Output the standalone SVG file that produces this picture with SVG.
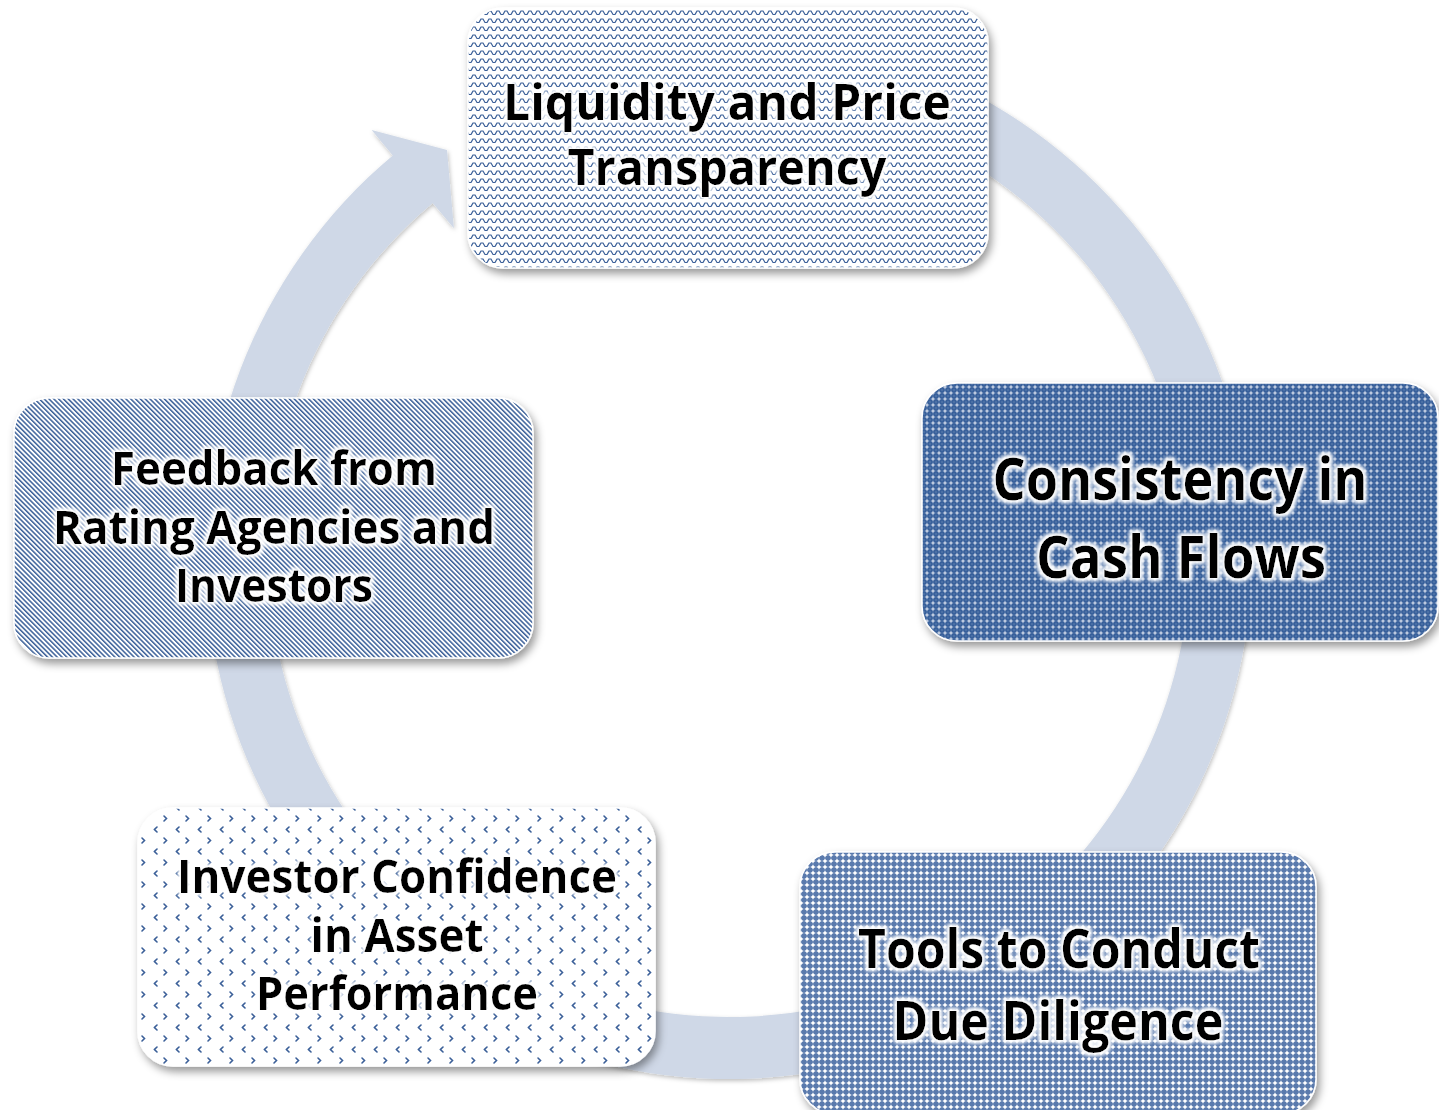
<svg xmlns="http://www.w3.org/2000/svg" width="1439" height="1110" viewBox="0 0 1439 1110">
<defs>
<style>
.t{font-family:"Open Sans","Liberation Sans",sans-serif;font-weight:700;fill:#000;text-anchor:middle;}
.box{stroke:#fff;stroke-width:1.5;}
.cv{fill:none;stroke:#3a5f98;stroke-width:1.6;stroke-linecap:round;}
</style>
<filter id="sh" x="-10%" y="-10%" width="125%" height="130%">
<feDropShadow dx="3" dy="5" stdDeviation="4" flood-color="#000" flood-opacity="0.4"/>
</filter>
<filter id="rsh" x="-10%" y="-10%" width="120%" height="120%">
<feDropShadow dx="1" dy="2" stdDeviation="2" flood-color="#000" flood-opacity="0.25"/>
</filter>
<filter id="glow" x="-10%" y="-30%" width="120%" height="160%">
<feMorphology in="SourceAlpha" operator="dilate" radius="2" result="d"/>
<feGaussianBlur in="d" stdDeviation="2" result="b"/>
<feFlood flood-color="#fff"/>
<feComposite in2="b" operator="in" result="g"/>
<feMerge><feMergeNode in="g"/><feMergeNode in="g"/><feMergeNode in="SourceGraphic"/></feMerge>
</filter>
<pattern id="pWave" width="8" height="8" patternUnits="userSpaceOnUse">
<rect width="8" height="8" fill="#fff"/>
<path d="M-1,6.5 L1,3 L3,3 L5,6.5 L7,6.5 L9,3" fill="none" stroke="#3a5f98" stroke-width="1.2"/>
</pattern>
<pattern id="pCross" width="6" height="6" patternUnits="userSpaceOnUse">
<rect width="6" height="6" fill="#38609b"/>
<path d="M3,0.8 L3,5.2 M0.8,3 L5.2,3" stroke="#b4c3dc" stroke-width="1.1"/>
<rect x="2.4" y="2.4" width="1.2" height="1.2" fill="#fff"/>
<rect x="-0.5" y="-0.5" width="1" height="1" fill="#8aa0c4"/>
<rect x="5.5" y="5.5" width="1" height="1" fill="#8aa0c4"/>
<rect x="5.5" y="-0.5" width="1" height="1" fill="#8aa0c4"/>
<rect x="-0.5" y="5.5" width="1" height="1" fill="#8aa0c4"/>
</pattern>
<pattern id="pStar" width="6" height="6" patternUnits="userSpaceOnUse">
<rect width="6" height="6" fill="#5a7aad"/>
<path d="M3,0.2 L3.9,2.1 L5.8,3 L3.9,3.9 L3,5.8 L2.1,3.9 L0.2,3 L2.1,2.1 Z" fill="#fff"/>
</pattern>
<pattern id="pDiv" width="22" height="22" patternUnits="userSpaceOnUse">
<rect width="22" height="22" fill="#fff"/>
<path class="cv" d="M10,2 L12.5,4.5 L10,7"/>
<path class="cv" d="M3,13 L0.5,15.5 L3,18 M25,13 L22.5,15.5 L25,18"/>
</pattern>
<pattern id="pDiag" width="3.4" height="10" patternUnits="userSpaceOnUse" patternTransform="rotate(-45)">
<rect width="3.4" height="10" fill="#fff"/>
<rect width="1.5" height="10" fill="#3a5f98"/>
</pattern>
</defs>

<g id="connectors">
<path id="cycle-arrow" filter="url(#rsh)" fill="#cfd8e7" d="M467.5,103.1 A523,523 0 1 1 392.8,155.4 L371.6,130.1 L447,150 L453.9,228.2 L432.7,202.9 A461,461 0 1 0 498.5,156.8 Z"/>
</g>

<g id="node-liquidity" filter="url(#sh)">
<rect class="box" x="468" y="8" width="520" height="260" rx="35" fill="url(#pWave)"/>
<g filter="url(#glow)">
<text class="t" x="727" y="120" font-size="51" textLength="448" lengthAdjust="spacingAndGlyphs">Liquidity and Price</text>
<text class="t" x="727" y="185" font-size="51" textLength="319" lengthAdjust="spacingAndGlyphs">Transparency</text>
</g>
</g>

<g id="node-consistency" filter="url(#sh)">
<rect class="box" x="922" y="383" width="516" height="258" rx="35" fill="url(#pCross)"/>
<g filter="url(#glow)">
<text class="t" x="1180" y="500" font-size="59" textLength="375" lengthAdjust="spacingAndGlyphs">Consistency in</text>
<text class="t" x="1181" y="578" font-size="59" textLength="290" lengthAdjust="spacingAndGlyphs">Cash Flows</text>
</g>
</g>

<g id="node-tools" filter="url(#sh)">
<rect class="box" x="800" y="852" width="516" height="262" rx="35" fill="url(#pStar)"/>
<g filter="url(#glow)">
<text class="t" x="1059" y="968" font-size="54" textLength="402" lengthAdjust="spacingAndGlyphs">Tools to Conduct</text>
<text class="t" x="1058" y="1040" font-size="54" textLength="331" lengthAdjust="spacingAndGlyphs">Due Diligence</text>
</g>
</g>

<g id="node-investor" filter="url(#sh)">
<rect class="box" x="138" y="808" width="517" height="258" rx="35" fill="url(#pDiv)"/>
<g filter="url(#glow)">
<text class="t" x="397" y="893" font-size="47" textLength="440" lengthAdjust="spacingAndGlyphs">Investor Confidence</text>
<text class="t" x="397" y="952" font-size="47" textLength="173" lengthAdjust="spacingAndGlyphs">in Asset</text>
<text class="t" x="397" y="1010" font-size="47" textLength="282" lengthAdjust="spacingAndGlyphs">Performance</text>
</g>
</g>

<g id="node-feedback" filter="url(#sh)">
<rect class="box" x="14" y="398" width="519" height="260" rx="35" fill="url(#pDiag)"/>
<g filter="url(#glow)">
<text class="t" x="274" y="485" font-size="47" textLength="326" lengthAdjust="spacingAndGlyphs">Feedback from</text>
<text class="t" x="274" y="544" font-size="47" textLength="442" lengthAdjust="spacingAndGlyphs">Rating Agencies and</text>
<text class="t" x="274" y="602" font-size="47" textLength="198" lengthAdjust="spacingAndGlyphs">Investors</text>
</g>
</g>
</svg>
